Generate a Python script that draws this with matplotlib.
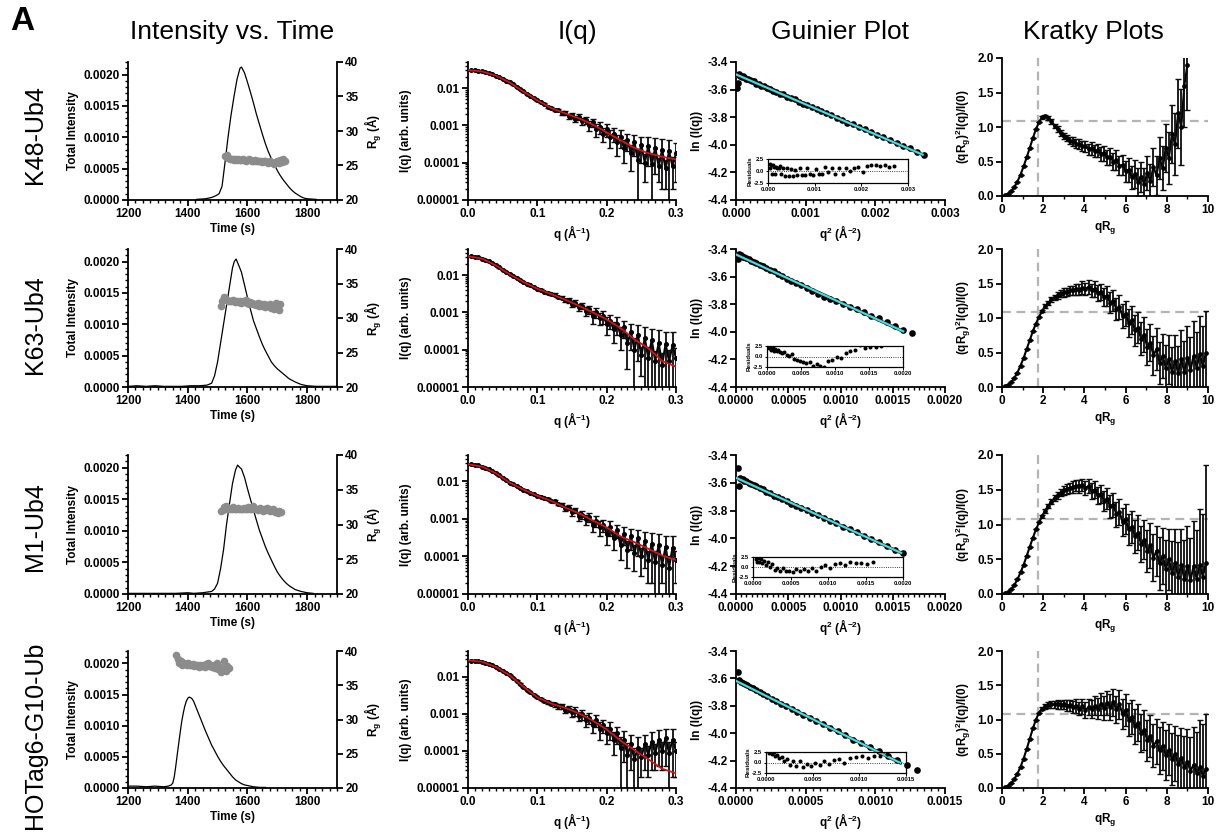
import numpy as np
import matplotlib
matplotlib.use("Agg")
import matplotlib.pyplot as plt
from matplotlib.ticker import (MultipleLocator, FixedLocator, FuncFormatter,
                               FormatStrFormatter, LogLocator, NullFormatter)

plt.rcParams['font.family'] = ['Liberation Sans', 'DejaVu Sans']
plt.rcParams['font.weight'] = 'bold'
plt.rcParams['axes.unicode_minus'] = False
plt.rcParams['mathtext.fontset'] = 'custom'
plt.rcParams['mathtext.rm'] = 'Liberation Sans:bold'
plt.rcParams['mathtext.it'] = 'Liberation Sans:bold'
plt.rcParams['mathtext.bf'] = 'Liberation Sans:bold'
plt.rcParams['mathtext.default'] = 'rm'
plt.rcParams['axes.linewidth'] = 1.3

# ---------------- data ----------------
samples = ["K48-Ub4", "K63-Ub4", "M1-Ub4", "HOTag6-G10-Ub"]
col_titles = ["Intensity vs. Time", "I(q)", "Guinier Plot", "Kratky Plots"]

# elution traces (time in s, total intensity)
trace_t_k48 = [1430, 1460, 1480, 1495, 1505, 1515, 1525, 1535, 1545, 1555,
               1565, 1575, 1580, 1590, 1600, 1610, 1620, 1630, 1640, 1650,
               1660, 1670, 1680, 1690, 1700, 1710, 1720, 1730, 1740, 1750,
               1760, 1770, 1780, 1790, 1800, 1830]
trace_i_k48 = [0.00001, 0.00002, 0.00004, 0.00007, 0.0001, 0.00022, 0.0006, 0.001, 0.00135, 0.00165,
               0.00192, 0.0021, 0.00212, 0.00203, 0.00188, 0.00172, 0.00155, 0.00137, 0.00121, 0.00105,
               0.0009, 0.00077, 0.00066, 0.00057, 0.00047, 0.00039, 0.00032, 0.00026, 0.0002, 0.00015,
               0.00011, 0.00008, 0.00005, 0.00003, 0.00002, 0.00001]
trace_t_k63 = [1200, 1230, 1260, 1290, 1320, 1350, 1380, 1410, 1440, 1465,
               1480, 1490, 1500, 1510, 1520, 1530, 1540, 1550, 1556, 1562,
               1570, 1580, 1590, 1600, 1610, 1620, 1630, 1640, 1650, 1660,
               1670, 1680, 1690, 1700, 1710, 1720, 1740, 1760, 1780, 1800,
               1830, 1860, 1900]
trace_i_k63 = [0.00001, 0.00002, 0.00001, 0.00002, 0.00001, 0.00001, 0.00001, 0.00002, 0.00002, 0.00003,
               0.00006, 0.00018, 0.0004, 0.0007, 0.001, 0.0013, 0.0016, 0.0019, 0.002, 0.00204,
               0.00195, 0.00183, 0.00163, 0.00143, 0.00124, 0.00106, 0.00093, 0.0008, 0.00068, 0.00058,
               0.00049, 0.0004, 0.00034, 0.00029, 0.00025, 0.00021, 0.00013, 0.00008, 0.00004, 0.00002,
               0.00001, 0.00001, 0.00001]
trace_t_m1 = [1200, 1240, 1280, 1320, 1360, 1400, 1420, 1450, 1480, 1490,
              1500, 1510, 1520, 1530, 1540, 1550, 1560, 1567, 1575, 1580,
              1590, 1600, 1610, 1620, 1630, 1640, 1650, 1660, 1670, 1680,
              1690, 1700, 1710, 1720, 1730, 1740, 1760, 1780, 1800, 1820]
trace_i_m1 = [0.00001, 0.00001, 0.00001, 0.00001, 0.00001, 0.00002, 0.00001, 0.00002, 0.00004, 0.00008,
              0.00017, 0.0004, 0.0007, 0.0011, 0.00143, 0.00175, 0.00196, 0.00204, 0.002, 0.00198,
              0.00185, 0.00167, 0.0015, 0.00133, 0.00117, 0.00101, 0.00088, 0.00075, 0.00064, 0.00054,
              0.00044, 0.00035, 0.00028, 0.00022, 0.00017, 0.00013, 0.00007, 0.00004, 0.00002, 0.00001]
trace_t_hot = [1200, 1230, 1260, 1290, 1320, 1335, 1345, 1350, 1355, 1360,
               1365, 1370, 1375, 1380, 1385, 1390, 1395, 1400, 1405, 1410,
               1415, 1420, 1430, 1440, 1450, 1460, 1470, 1480, 1490, 1500,
               1510, 1520, 1530, 1540, 1550, 1560, 1570, 1580, 1590, 1600,
               1620, 1640, 1660]
trace_i_hot = [0.00003, 0.00003, 0.00002, 0.00003, 0.00002, 0.00003, 0.00005, 0.00008, 0.00018, 0.00035,
               0.00054, 0.00072, 0.0009, 0.00107, 0.0012, 0.00131, 0.00139, 0.00144, 0.00146, 0.00145,
               0.00143, 0.00139, 0.00127, 0.00115, 0.00103, 0.00091, 0.0008, 0.00069, 0.0006, 0.00051,
               0.00043, 0.00036, 0.0003, 0.00024, 0.00018, 0.00013, 0.0001, 0.00007, 0.00005, 0.00004,
               0.00002, 0.00001, 0.00001]

# Rg across the peak (time in s, Rg in A)
rg_t_k48 = [1525, 1530, 1535, 1540, 1545, 1550, 1555, 1560, 1565, 1570,
            1575, 1580, 1585, 1590, 1595, 1600, 1605, 1610, 1615, 1620,
            1625, 1630, 1635, 1640, 1645, 1650, 1655, 1660, 1665, 1670,
            1675, 1680, 1685, 1690, 1695, 1700, 1705, 1710, 1715, 1720, 1725]
rg_k48 = [26.4, 26.5, 26.1, 25.9, 26.0, 25.9, 25.8, 25.9, 25.8, 25.9,
          25.8, 25.8, 25.9, 25.8, 25.7, 25.8, 25.9, 25.8, 25.7, 25.7,
          25.8, 25.6, 25.7, 25.6, 25.7, 25.5, 25.6, 25.7, 25.5, 25.3,
          25.6, 25.5, 25.4, 25.2, 25.5, 25.6, 25.3, 25.8, 25.5, 26.0, 25.7]
rg_t_k63 = [1510, 1515, 1520, 1525, 1530, 1535, 1540, 1545, 1550, 1555,
            1560, 1565, 1570, 1575, 1580, 1585, 1590, 1595, 1600, 1605,
            1610, 1615, 1620, 1625, 1630, 1635, 1640, 1645, 1650, 1655,
            1660, 1665, 1670, 1675, 1680, 1685, 1690, 1695, 1700, 1705, 1710]
rg_k63 = [31.8, 32.4, 33.0, 32.7, 32.6, 32.5, 32.5, 32.4, 32.6, 32.4,
          32.3, 32.5, 32.3, 32.4, 32.2, 32.4, 32.3, 32.6, 32.2, 32.0,
          32.3, 32.2, 32.0, 32.1, 31.9, 32.2, 31.8, 32.0, 31.7, 32.1,
          31.6, 31.9, 31.7, 32.0, 31.5, 31.8, 31.3, 32.2, 31.5, 31.2, 32.0]
rg_t_m1 = [1512, 1517, 1522, 1527, 1532, 1537, 1542, 1547, 1552, 1557,
           1562, 1567, 1572, 1577, 1582, 1587, 1592, 1597, 1602, 1607,
           1612, 1617, 1622, 1627, 1632, 1637, 1642, 1647, 1652, 1657,
           1662, 1667, 1672, 1677, 1682, 1687, 1692, 1697, 1702, 1707, 1712]
rg_m1 = [31.9, 32.1, 32.5, 32.7, 32.3, 32.4, 32.2, 32.3, 32.5, 32.2,
         32.3, 32.4, 32.2, 32.3, 32.2, 32.4, 32.3, 32.2, 32.5, 32.3,
         32.2, 32.6, 32.4, 32.2, 32.3, 32.1, 32.4, 32.2, 32.0, 32.3,
         32.1, 32.4, 32.2, 31.9, 32.1, 32.3, 31.8, 32.0, 31.7, 31.9, 31.8]
rg_t_hot = [1362, 1367, 1372, 1377, 1382, 1387, 1392, 1397, 1402, 1407,
            1412, 1417, 1422, 1427, 1432, 1437, 1442, 1447, 1452, 1457,
            1462, 1467, 1472, 1477, 1482, 1487, 1492, 1497, 1502, 1507,
            1512, 1517, 1522, 1527, 1532, 1537]
rg_hot = [39.4, 38.8, 38.3, 38.6, 38.0, 38.2, 38.1, 37.9, 38.3, 38.0,
          37.9, 38.1, 37.8, 38.0, 37.9, 37.7, 38.0, 37.8, 37.9, 37.7,
          38.1, 38.2, 37.8, 38.0, 37.6, 37.9, 37.5, 38.2, 37.3, 37.7,
          36.9, 37.4, 38.5, 37.1, 37.8, 37.5]

# scattering curves I(q)
q_iq = [0.005, 0.01, 0.015, 0.02, 0.025, 0.03, 0.035, 0.04, 0.045, 0.05,
        0.055, 0.06, 0.065, 0.07, 0.075, 0.08, 0.085, 0.09, 0.095, 0.1,
        0.105, 0.11, 0.115, 0.12, 0.125, 0.13, 0.135, 0.14, 0.145, 0.15,
        0.155, 0.16, 0.165, 0.17, 0.175, 0.18, 0.185, 0.19, 0.195, 0.2,
        0.205, 0.21, 0.215, 0.22, 0.225, 0.23, 0.235, 0.24, 0.245, 0.25,
        0.255, 0.26, 0.265, 0.27, 0.275, 0.28, 0.285, 0.29, 0.295, 0.3]
iq_k48 = [0.0300, 0.0300, 0.0292, 0.0280, 0.0266, 0.0250, 0.0234, 0.0216, 0.0198, 0.0178,
          0.0159, 0.0142, 0.0125, 0.0109, 0.0094, 0.0081, 0.0070, 0.0061, 0.0054, 0.0047,
          0.0042, 0.0038, 0.0032, 0.0030, 0.0026, 0.0026, 0.0022, 0.0022, 0.0018, 0.0019,
          0.0015, 0.0017, 0.0013, 0.0014, 0.0010, 0.0012, 0.0008, 0.0009, 0.0006, 0.0008,
          0.0005, 0.0006, 0.00035, 0.0005, 0.00025, 0.0004, 0.00018, 0.00035, 0.00012, 0.0003,
          0.0001, 0.00028, 0.00009, 0.00025, 0.00008, 0.00022, 0.00007, 0.0002, 0.00008, 0.00018]
iq_k63 = [0.0318, 0.0312, 0.0298, 0.0278, 0.0256, 0.0232, 0.0208, 0.0183, 0.0160, 0.0140,
          0.0121, 0.0105, 0.0094, 0.0083, 0.0074, 0.0066, 0.0059, 0.0053, 0.0048, 0.0043,
          0.0040, 0.0036, 0.0034, 0.0031, 0.0030, 0.0026, 0.0025, 0.0021, 0.0021, 0.0017,
          0.0018, 0.0014, 0.0015, 0.0011, 0.0012, 0.0008, 0.0010, 0.0007, 0.0008, 0.0005,
          0.0006, 0.00035, 0.0005, 0.00025, 0.0004, 0.00015, 0.0003, 0.0001, 0.00025, 0.00007,
          0.0002, 0.00006, 0.00018, 0.00005, 0.00015, 0.00004, 0.00014, 0.00005, 0.00013, 0.00006]
iq_m1 = [0.0281, 0.0276, 0.0264, 0.0247, 0.0227, 0.0206, 0.0185, 0.0164, 0.0143, 0.0124,
         0.0107, 0.0092, 0.0083, 0.0074, 0.0066, 0.0060, 0.0054, 0.0049, 0.0045, 0.0041,
         0.0039, 0.0035, 0.0033, 0.0030, 0.0029, 0.0025, 0.0024, 0.0019, 0.0020, 0.0015,
         0.0017, 0.0012, 0.0013, 0.0010, 0.0011, 0.0007, 0.0009, 0.0006, 0.0007, 0.0004,
         0.0006, 0.0003, 0.0005, 0.0002, 0.0004, 0.00015, 0.00035, 0.00012, 0.0003, 0.0001,
         0.00025, 0.00008, 0.00022, 0.00007, 0.0002, 0.00006, 0.00018, 0.00005, 0.00017, 0.00008]
iq_hot = [0.0276, 0.0272, 0.0266, 0.0257, 0.0241, 0.0224, 0.0205, 0.0185, 0.0166, 0.0147,
          0.0129, 0.0111, 0.0094, 0.0079, 0.0066, 0.0054, 0.0045, 0.0038, 0.0033, 0.0028,
          0.0026, 0.0023, 0.0021, 0.0019, 0.0018, 0.0016, 0.0016, 0.0013, 0.0014, 0.0011,
          0.0012, 0.0009, 0.0010, 0.0007, 0.0008, 0.0005, 0.0007, 0.0004, 0.0005, 0.0003,
          0.0004, 0.0002, 0.0003, 0.00012, 0.0002, 0.00008, 0.00015, 0.00006, 0.00012, 0.00007,
          0.00015, 0.00008, 0.00018, 0.00009, 0.0002, 0.0001, 0.00022, 0.00009, 0.0002, 0.0001]
# error bars: low-q part shared, high-q part per sample
iq_err_low = [0.0003, 0.0002, 0.0002, 0.0002, 0.0001, 0.0001, 0.0001, 0.0001, 0.0001, 0.0001,
              0.0001, 0.0001, 0.0001, 0.0001, 0.0001, 0.0001, 0.0001, 0.0001, 0.00012, 0.00012,
              0.00015, 0.00015, 0.0002, 0.0002, 0.00022, 0.00022, 0.00025, 0.00025, 0.00028, 0.00028]
iq_err_hi_k48 = [0.0003, 0.0003, 0.0003, 0.0003, 0.0003, 0.0003, 0.0003, 0.0003, 0.00025, 0.0003,
                 0.00025, 0.00025, 0.0002, 0.00025, 0.00015, 0.0002, 0.00012, 0.0002, 0.00012, 0.0002,
                 0.00007, 0.0002, 0.00009, 0.0002, 0.00005, 0.0002, 0.00005, 0.0002, 0.00006, 0.00015]
iq_err_hi_k63 = [0.0003, 0.0003, 0.0003, 0.0003, 0.0003, 0.0003, 0.0003, 0.00025, 0.0003, 0.00025,
                 0.00025, 0.0002, 0.00025, 0.00015, 0.0002, 0.00012, 0.0002, 0.0001, 0.0002, 0.00005,
                 0.0002, 0.00006, 0.00018, 0.00004, 0.00018, 0.00004, 0.00016, 0.00005, 0.00016, 0.00005]
iq_err_hi_m1 = [0.0003, 0.0003, 0.0003, 0.0003, 0.0003, 0.00025, 0.0003, 0.00025, 0.00025, 0.0002,
                0.00025, 0.00015, 0.0002, 0.00012, 0.0002, 0.0001, 0.0002, 0.00008, 0.0002, 0.00007,
                0.0002, 0.00006, 0.0002, 0.00007, 0.0002, 0.00004, 0.00018, 0.00005, 0.00018, 0.00006]
iq_err_hi_hot = [0.0003, 0.00025, 0.0003, 0.00025, 0.00025, 0.0002, 0.00025, 0.0002, 0.0002, 0.00015,
                 0.0002, 0.00012, 0.00015, 0.00012, 0.00015, 0.00008, 0.00012, 0.00006, 0.00012, 0.00005,
                 0.00012, 0.00006, 0.00015, 0.00006, 0.00016, 0.00007, 0.00018, 0.00009, 0.00018, 0.00008]

# model fits (red curves)
q_fit = [0.0, 0.02, 0.04, 0.06, 0.08, 0.1, 0.12, 0.14, 0.16, 0.18, 0.2, 0.22, 0.24, 0.26, 0.28, 0.3]
fit_k48 = [0.0305, 0.0280, 0.0216, 0.0142, 0.0080, 0.0047, 0.0029, 0.0021, 0.00155, 0.00105,
           0.00065, 0.00040, 0.00025, 0.00018, 0.000145, 0.000122]
fit_k63 = [0.0320, 0.0278, 0.0183, 0.0105, 0.0065, 0.0043, 0.0031, 0.0022, 0.0015, 0.0010,
           0.00065, 0.00038, 0.00019, 0.00011, 0.00005, 0.000035]
fit_m1 = [0.0283, 0.0247, 0.0164, 0.0092, 0.0060, 0.0041, 0.0030, 0.0020, 0.0014, 0.0009,
          0.00059, 0.00034, 0.00024, 0.00016, 0.000106, 0.00008]
fit_hot = [0.0279, 0.0257, 0.0185, 0.0111, 0.0054, 0.0028, 0.0019, 0.00146, 0.00104, 0.00066,
           0.00038, 0.00019, 0.000106, 0.00006, 0.000033, 0.000025]

# Guinier region
q_gn = [0.004, 0.005, 0.006, 0.007, 0.008, 0.009, 0.010, 0.011, 0.012, 0.013,
        0.014, 0.015, 0.016, 0.017, 0.018, 0.019, 0.020, 0.021, 0.022, 0.023,
        0.024, 0.025, 0.026, 0.027, 0.028, 0.029, 0.030, 0.031, 0.032, 0.033,
        0.034, 0.035, 0.036, 0.037, 0.038, 0.039, 0.040, 0.041, 0.042, 0.043,
        0.044, 0.045, 0.046, 0.047, 0.048, 0.049, 0.050, 0.051, 0.052]
ln_k48 = [-3.59, -3.55, -3.490, -3.497, -3.498, -3.511, -3.505, -3.512, -3.524, -3.522,
          -3.529, -3.536, -3.540, -3.556, -3.557, -3.574, -3.574, -3.591, -3.593, -3.610,
          -3.614, -3.630, -3.634, -3.652, -3.664, -3.669, -3.688, -3.703, -3.710, -3.729,
          -3.744, -3.752, -3.772, -3.784, -3.806, -3.817, -3.840, -3.852, -3.873, -3.888,
          -3.906, -3.930, -3.944, -3.963, -3.984, -4.006, -4.026, -4.050, -4.072]
ln_k63 = [-3.475, -3.437, -3.443, -3.446, -3.455, -3.458, -3.468, -3.473, -3.484, -3.491,
          -3.503, -3.514, -3.524, -3.539, -3.552, -3.563, -3.582, -3.598, -3.614, -3.631,
          -3.648, -3.664, -3.686, -3.703, -3.724, -3.745, -3.759, -3.778, -3.797, -3.821,
          -3.838, -3.860, -3.883, -3.903, -3.932, -3.958, -3.985, -4.012]
ln_m1 = [-3.49, -3.625, -3.566, -3.574, -3.575, -3.585, -3.588, -3.600, -3.606, -3.619,
         -3.625, -3.641, -3.648, -3.666, -3.676, -3.692, -3.702, -3.720, -3.734, -3.751,
         -3.764, -3.783, -3.798, -3.818, -3.834, -3.856, -3.872, -3.890, -3.916, -3.933,
         -3.954, -3.980, -4.001, -4.027, -4.053, -4.081, -4.105]
ln_hot = [-3.55, -3.612, -3.625, -3.630, -3.640, -3.647, -3.661, -3.670, -3.686, -3.697,
          -3.716, -3.728, -3.751, -3.763, -3.787, -3.800, -3.826, -3.844, -3.868, -3.887,
          -3.914, -3.934, -3.963, -3.985, -4.012, -4.046, -4.070, -4.100, -4.130, -4.166,
          -4.197, -4.232, -4.266]
gn_intercept = [-3.49, -3.44, -3.564, -3.618]
gn_slope = [-217, -348, -342, -508]
gn_fit_end = [0.00268, 0.00160, 0.00158, 0.00118]
gn_sigma = 0.005

# dimensionless Kratky
x_kr = [0.15, 0.3, 0.45, 0.6, 0.75, 0.9, 1.05, 1.2, 1.35, 1.5,
        1.65, 1.8, 1.95, 2.1, 2.25, 2.4, 2.55, 2.7, 2.85, 3.0,
        3.15, 3.3, 3.45, 3.6, 3.75, 3.9, 4.05, 4.2, 4.35, 4.5,
        4.65, 4.8, 4.95, 5.1, 5.25, 5.4, 5.55, 5.7, 5.85, 6.0,
        6.15, 6.3, 6.45, 6.6, 6.75, 6.9, 7.05, 7.2, 7.35, 7.5,
        7.65, 7.8, 7.95, 8.1, 8.25, 8.4, 8.55, 8.7, 8.85, 9.0,
        9.15, 9.3, 9.45, 9.6, 9.75, 9.9]
kr_k48 = [0.01, 0.03, 0.07, 0.13, 0.21, 0.31, 0.43, 0.56, 0.70, 0.84,
          0.97, 1.07, 1.14, 1.16, 1.13, 1.08, 1.02, 0.97, 0.91, 0.87,
          0.84, 0.80, 0.79, 0.76, 0.75, 0.72, 0.72, 0.68, 0.69, 0.65,
          0.66, 0.61, 0.62, 0.56, 0.57, 0.50, 0.52, 0.44, 0.45, 0.36,
          0.38, 0.27, 0.32, 0.20, 0.28, 0.18, 0.33, 0.22, 0.42, 0.30,
          0.55, 0.40, 0.70, 0.55, 0.90, 0.75, 1.20, 1.00, 1.60, 1.90]
kr_err_k48 = [0, 0, 0, 0, 0, 0, 0, 0, 0, 0,
              0, 0, 0.02, 0.02, 0.03, 0.03, 0.03, 0.04, 0.04, 0.04,
              0.05, 0.05, 0.06, 0.06, 0.07, 0.07, 0.08, 0.08, 0.09, 0.09,
              0.10, 0.10, 0.11, 0.11, 0.12, 0.12, 0.14, 0.14, 0.15, 0.15,
              0.17, 0.17, 0.20, 0.20, 0.22, 0.22, 0.25, 0.25, 0.28, 0.28,
              0.30, 0.32, 0.35, 0.38, 0.42, 0.45, 0.50, 0.55, 0.60, 0.65]
kr_k63 = [0.01, 0.03, 0.07, 0.13, 0.21, 0.31, 0.42, 0.55, 0.68, 0.81,
          0.92, 1.02, 1.10, 1.17, 1.22, 1.27, 1.30, 1.33, 1.35, 1.37,
          1.38, 1.40, 1.40, 1.42, 1.41, 1.44, 1.42, 1.45, 1.40, 1.42,
          1.36, 1.38, 1.30, 1.32, 1.22, 1.25, 1.13, 1.16, 1.03, 1.06,
          0.93, 0.97, 0.82, 0.86, 0.70, 0.76, 0.58, 0.64, 0.46, 0.55,
          0.35, 0.45, 0.28, 0.40, 0.22, 0.38, 0.20, 0.40, 0.22, 0.42,
          0.25, 0.45, 0.28, 0.48, 0.30, 0.50]
kr_err_k63 = [0, 0, 0, 0, 0, 0, 0, 0, 0, 0,
              0, 0, 0.02, 0.03, 0.03, 0.04, 0.04, 0.05, 0.05, 0.06,
              0.06, 0.07, 0.07, 0.08, 0.08, 0.09, 0.09, 0.10, 0.10, 0.11,
              0.12, 0.12, 0.13, 0.14, 0.15, 0.15, 0.16, 0.17, 0.18, 0.18,
              0.20, 0.20, 0.22, 0.22, 0.24, 0.25, 0.26, 0.27, 0.28, 0.30,
              0.30, 0.32, 0.33, 0.35, 0.36, 0.38, 0.40, 0.42, 0.44, 0.46,
              0.48, 0.50, 0.52, 0.55, 0.58, 0.60]
kr_m1 = [0.01, 0.03, 0.07, 0.13, 0.21, 0.31, 0.42, 0.55, 0.68, 0.81,
         0.93, 1.03, 1.12, 1.20, 1.27, 1.33, 1.38, 1.42, 1.46, 1.49,
         1.51, 1.53, 1.54, 1.56, 1.55, 1.57, 1.53, 1.55, 1.48, 1.50,
         1.42, 1.44, 1.34, 1.37, 1.26, 1.28, 1.15, 1.18, 1.04, 1.08,
         0.93, 0.97, 0.83, 0.88, 0.72, 0.78, 0.62, 0.70, 0.52, 0.62,
         0.44, 0.55, 0.36, 0.50, 0.30, 0.45, 0.25, 0.42, 0.22, 0.40,
         0.20, 0.40, 0.22, 0.42, 0.25, 0.45]
kr_err_m1 = [0, 0, 0, 0, 0, 0, 0, 0, 0, 0,
             0, 0, 0.02, 0.03, 0.03, 0.04, 0.04, 0.05, 0.05, 0.06,
             0.07, 0.07, 0.08, 0.08, 0.09, 0.09, 0.10, 0.10, 0.11, 0.12,
             0.12, 0.13, 0.14, 0.15, 0.16, 0.17, 0.18, 0.19, 0.20, 0.21,
             0.22, 0.23, 0.24, 0.25, 0.26, 0.28, 0.30, 0.32, 0.34, 0.36,
             0.38, 0.40, 0.42, 0.44, 0.46, 0.48, 0.50, 0.52, 0.55, 0.58,
             0.60, 0.65, 0.70, 0.80, 0.90, 1.40]
kr_hot = [0.01, 0.03, 0.07, 0.13, 0.21, 0.31, 0.43, 0.57, 0.72, 0.87,
          1.00, 1.10, 1.16, 1.19, 1.21, 1.22, 1.22, 1.22, 1.21, 1.22,
          1.20, 1.21, 1.18, 1.20, 1.16, 1.19, 1.14, 1.18, 1.15, 1.20,
          1.16, 1.22, 1.17, 1.24, 1.18, 1.25, 1.15, 1.22, 1.08, 1.14,
          1.00, 1.04, 0.90, 0.95, 0.80, 0.85, 0.70, 0.76, 0.62, 0.68,
          0.55, 0.62, 0.48, 0.56, 0.42, 0.50, 0.35, 0.44, 0.30, 0.38,
          0.25, 0.34, 0.22, 0.30, 0.18, 0.28]
kr_err_hot = [0, 0, 0, 0, 0, 0, 0, 0, 0, 0,
              0, 0, 0.02, 0.03, 0.04, 0.05, 0.05, 0.06, 0.06, 0.07,
              0.08, 0.08, 0.09, 0.10, 0.10, 0.11, 0.12, 0.12, 0.13, 0.14,
              0.15, 0.16, 0.17, 0.18, 0.19, 0.20, 0.20, 0.21, 0.22, 0.23,
              0.24, 0.25, 0.26, 0.27, 0.28, 0.29, 0.30, 0.31, 0.32, 0.33,
              0.34, 0.35, 0.36, 0.37, 0.38, 0.40, 0.42, 0.44, 0.46, 0.48,
              0.50, 0.55, 0.60, 0.70, 0.75, 0.80]
kratky_ref_x = 1.74
kratky_ref_y = 1.08

traces = [(trace_t_k48, trace_i_k48), (trace_t_k63, trace_i_k63),
          (trace_t_m1, trace_i_m1), (trace_t_hot, trace_i_hot)]
rgs = [(rg_t_k48, rg_k48), (rg_t_k63, rg_k63), (rg_t_m1, rg_m1), (rg_t_hot, rg_hot)]
iqs = [iq_k48, iq_k63, iq_m1, iq_hot]
iq_errs = [iq_err_low + iq_err_hi_k48, iq_err_low + iq_err_hi_k63,
           iq_err_low + iq_err_hi_m1, iq_err_low + iq_err_hi_hot]
fits = [fit_k48, fit_k63, fit_m1, fit_hot]
lns = [ln_k48, ln_k63, ln_m1, ln_hot]
krs = [(kr_k48, kr_err_k48), (kr_k63, kr_err_k63), (kr_m1, kr_err_m1), (kr_hot, kr_err_hot)]

# guinier axis settings per row
gn_xmax = [0.003, 0.002, 0.002, 0.0015]
gn_major = [0.001, 0.0005, 0.0005, 0.0005]
gn_fmt = ['%.3f', '%.4f', '%.4f', '%.4f']

# ---------------- layout (pixels) ----------------
W, H = 1220, 833
col_x = [(128, 337), (468, 676), (736, 945), (1002, 1208)]
row_y = [(62, 200), (249, 387), (455, 594), (651, 788)]
kr_row_y = [(58, 196), (249, 387), (455, 594), (651, 788)]
inset_box = [(768, 159, 908, 183), (767, 346, 903, 367), (753, 557, 903, 577), (766, 752, 906, 773)]
row_label_y = [135, 325, 527, 735]

fig = plt.figure(figsize=(W / 100, H / 100), dpi=100)
fig.patch.set_facecolor('white')

TICK = 8.5
LAB = 8.5


def box(l, t, r, b):
    return [l / W, 1 - b / H, (r - l) / W, (b - t) / H]


def style(ax):
    ax.spines['top'].set_visible(False)
    ax.spines['right'].set_visible(False)
    ax.tick_params(which='major', direction='out', length=4, width=1.3, labelsize=TICK, pad=2)
    ax.tick_params(which='minor', direction='out', length=2.3, width=1.0)


def plain(v, pos):
    return np.format_float_positional(v, trim='-')


def bars(ax, x, y, e, ms):
    ax.plot(x, y, color='k', lw=1.5, zorder=2)
    ax.errorbar(x, y, yerr=e, fmt='o', ms=ms, color='k', ecolor='#0d0d0d',
                elinewidth=1.3, capsize=2.4, capthick=1.0, zorder=2)


for i in range(4):
    top, bot = row_y[i]

    # ---- intensity vs time ----
    ax = fig.add_axes(box(col_x[0][0], top, col_x[0][1], bot))
    style(ax)
    t, inten = traces[i]
    ax.plot(t, inten, color='k', lw=0.9)
    ax.set_xlim(1200, 1900)
    ax.set_ylim(0, 0.0022)
    ax.xaxis.set_major_locator(FixedLocator([1200, 1400, 1600, 1800]))
    ax.xaxis.set_minor_locator(MultipleLocator(25))
    ax.yaxis.set_major_locator(FixedLocator([0, 0.0005, 0.001, 0.0015, 0.002]))
    ax.yaxis.set_major_formatter(FormatStrFormatter('%.4f'))
    ax.yaxis.set_minor_locator(MultipleLocator(0.0001))
    ax.set_ylabel('Total Intensity', fontsize=LAB, fontweight='bold', labelpad=3)
    ax.set_xlabel('Time (s)', fontsize=LAB, fontweight='bold', labelpad=2)
    ax2 = ax.twinx()
    for s in ['top', 'left', 'bottom']:
        ax2.spines[s].set_visible(False)
    ax2.tick_params(which='major', direction='out', length=4, width=1.3, labelsize=TICK, pad=2)
    rt, rv = rgs[i]
    ax2.plot(rt, rv, 'o', color='#8c8c8c', ms=5.5, mew=0)
    ax2.set_ylim(20, 40)
    ax2.yaxis.set_major_locator(FixedLocator([20, 25, 30, 35, 40]))
    ax2.set_ylabel('R$_g$ (Å)', fontsize=LAB, fontweight='bold', labelpad=3)

    # ---- I(q) ----
    ax = fig.add_axes(box(col_x[1][0], top, col_x[1][1], bot))
    style(ax)
    ax.set_yscale('log')
    iq = iqs[i]
    er = iq_errs[i]
    n = min(len(q_iq), len(iq), len(er))
    bars(ax, q_iq[:n], iq[:n], er[:n], 2.6)
    ax.plot(q_fit, fits[i], color='#d0141a', lw=1.3, zorder=4)
    ax.set_xlim(0, 0.3)
    ax.set_ylim(1e-5, 0.05)
    ax.xaxis.set_major_locator(FixedLocator([0, 0.1, 0.2, 0.3]))
    ax.xaxis.set_major_formatter(FormatStrFormatter('%.1f'))
    ax.xaxis.set_minor_locator(MultipleLocator(0.01))
    ax.yaxis.set_major_locator(FixedLocator([1e-5, 1e-4, 1e-3, 1e-2]))
    ax.yaxis.set_major_formatter(FuncFormatter(plain))
    ax.yaxis.set_minor_locator(LogLocator(base=10, subs=np.arange(2, 10)))
    ax.yaxis.set_minor_formatter(NullFormatter())
    ax.set_ylabel('I(q) (arb. units)', fontsize=LAB, fontweight='bold', labelpad=3)
    ax.set_xlabel('q (Å$^{-1}$)', fontsize=LAB, fontweight='bold', labelpad=2)

    # ---- Guinier ----
    ax = fig.add_axes(box(col_x[2][0], top, col_x[2][1], bot))
    style(ax)
    ln = np.array(lns[i])
    qq = np.array(q_gn[:len(ln)]) ** 2
    ax.plot(qq, ln, 'o', color='k', ms=4.8, mew=0, zorder=2)
    xf = np.array([0, gn_fit_end[i]])
    yf = gn_intercept[i] + gn_slope[i] * xf
    ax.plot(xf, yf, color='#202020', lw=2.3, zorder=3)
    ax.plot(xf, yf, color='#45dfe0', lw=1.5, zorder=4)
    ax.set_xlim(0, gn_xmax[i])
    ax.set_ylim(-4.4, -3.4)
    ax.xaxis.set_major_locator(MultipleLocator(gn_major[i]))
    ax.xaxis.set_minor_locator(MultipleLocator(gn_major[i] / 10))
    ax.xaxis.set_major_formatter(FormatStrFormatter(gn_fmt[i]))
    ax.yaxis.set_major_locator(MultipleLocator(0.2))
    ax.yaxis.set_major_formatter(FormatStrFormatter('%.1f'))
    ax.set_ylabel('ln (I(q))', fontsize=LAB, fontweight='bold', labelpad=3)
    ax.set_xlabel('q$^2$ (Å$^{-2}$)', fontsize=LAB, fontweight='bold', labelpad=2)

    # residual inset
    l, t_, r, b = inset_box[i]
    axi = fig.add_axes(box(l, t_, r, b))
    axi.set_facecolor('none')
    for s in axi.spines.values():
        s.set_linewidth(0.9)
    resid = (ln - (gn_intercept[i] + gn_slope[i] * qq)) / gn_sigma
    axi.plot(qq, resid, 'o', color='k', ms=2.9, mew=0)
    axi.axhline(0, color='k', lw=0.6, ls=':')
    axi.set_xlim(0, gn_xmax[i])
    axi.set_ylim(-2.5, 2.5)
    axi.xaxis.set_major_locator(MultipleLocator(gn_major[i]))
    axi.xaxis.set_major_formatter(FormatStrFormatter(gn_fmt[i]))
    axi.yaxis.set_major_locator(FixedLocator([-2.5, 0, 2.5]))
    axi.yaxis.set_major_formatter(FormatStrFormatter('%.1f'))
    axi.tick_params(direction='out', length=1.8, width=0.7, labelsize=4.2, pad=1)
    axi.set_ylabel('Residuals', fontsize=4.5, fontweight='bold', labelpad=1)

    # ---- Kratky ----
    kt, kb = kr_row_y[i]
    ax = fig.add_axes(box(col_x[3][0], kt, col_x[3][1], kb))
    style(ax)
    ky, ke = krs[i]
    n = min(len(x_kr), len(ky), len(ke))
    ax.axvline(kratky_ref_x, color='#b4b4b4', lw=1.6, ls=(0, (4, 2.5)), zorder=1)
    ax.axhline(kratky_ref_y, color='#b4b4b4', lw=1.6, ls=(0, (4, 2.5)), zorder=1)
    bars(ax, x_kr[:n], ky[:n], ke[:n], 2.4)
    ax.set_xlim(0, 10)
    ax.set_ylim(0, 2.0)
    ax.xaxis.set_major_locator(MultipleLocator(2))
    ax.xaxis.set_minor_locator(MultipleLocator(1))
    ax.yaxis.set_major_locator(MultipleLocator(0.5))
    ax.yaxis.set_major_formatter(FormatStrFormatter('%.1f'))
    ax.set_ylabel('(qR$_g$)$^2$I(q)/I(0)', fontsize=LAB, fontweight='bold', labelpad=3)
    ax.set_xlabel('qR$_g$', fontsize=LAB, fontweight='bold', labelpad=2)

    fig.text(35 / W, 1 - row_label_y[i] / H, samples[i], rotation=90, ha='center', va='center',
             fontsize=18, fontweight='normal')

title_x = [232, 577, 840, 1093]
for x, s in zip(title_x, col_titles):
    fig.text(x / W, 1 - 32 / H, s, ha='center', va='center', fontsize=19, fontweight='normal')
fig.text(22 / W, 1 - 22 / H, 'A', ha='center', va='center', fontsize=24, fontweight='bold')

fig.savefig('out.png', dpi=100)
